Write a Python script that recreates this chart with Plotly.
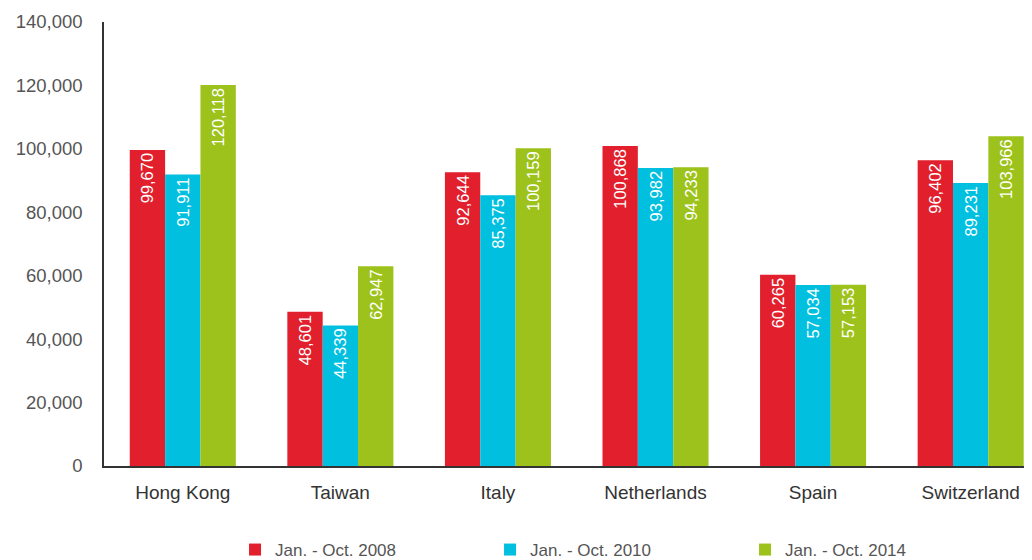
import plotly.graph_objects as go

categories = ["Hong Kong", "Taiwan", "Italy", "Netherlands", "Spain", "Switzerland"]
series_names = ["Jan. - Oct. 2008", "Jan. - Oct. 2010", "Jan. - Oct. 2014"]
v2008 = [99670, 48601, 92644, 100868, 60265, 96402]
v2010 = [91911, 44339, 85375, 93982, 57034, 89231]
v2014 = [120118, 62947, 100159, 94233, 57153, 103966]
colors = ["#E11F2D", "#00BFDF", "#9DC21B"]
tickvals = [0, 20000, 40000, 60000, 80000, 100000, 120000, 140000]

fig = go.Figure()
for name, vals, col in zip(series_names, [v2008, v2010, v2014], colors):
    fig.add_trace(go.Bar(
        x=categories, y=vals, name=name, marker_color=col,
        marker_line_width=0,
        text=[f"{v:,}" for v in vals], textposition="inside",
        insidetextanchor="end", textangle=-90,
        textfont=dict(color="white", size=16.5, family="Liberation Sans, Arial"),
    ))

fig.update_layout(
    width=1032, height=560,
    margin=dict(l=96, r=0, t=14, b=102),
    paper_bgcolor="white", plot_bgcolor="white",
    barmode="group", bargap=0.327, bargroupgap=0,
    font=dict(family="Liberation Sans, Arial", color="#555555", size=16),
    showlegend=True,
    legend=dict(orientation="h", x=0.14, xanchor="left", y=-0.19, yanchor="middle",
                font=dict(size=17, color="#555555"), entrywidth=210, entrywidthmode="pixels",
                itemwidth=30, itemsizing="constant"),
    xaxis=dict(range=[-0.5, 5.44], showline=True, linecolor="#333333", linewidth=1.5,
               ticks="", ticklabelstandoff=8, tickfont=dict(size=19, color="#333333")),
    yaxis=dict(range=[0, 140000], tickvals=tickvals, tickformat=",", showgrid=False,
               showline=True, linecolor="#333333", linewidth=1.5, ticks="",
               ticklabelstandoff=16, tickfont=dict(size=18.5, color="#555555"), zeroline=False),
)

fig.write_html("out.html")
